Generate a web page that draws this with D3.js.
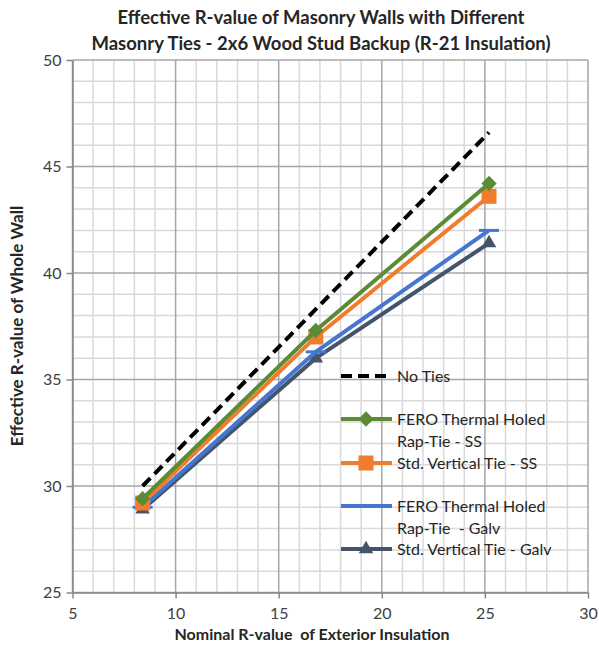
<!DOCTYPE html>
<html>
<head>
<meta charset="utf-8">
<script src="https://cdn.jsdelivr.net/npm/d3@7"></script>
<style>
  body { margin: 0; background: #fff; }
  text { font-family: Lato, "Open Sans", sans-serif; white-space: pre; }
</style>
</head>
<body>
<div id="chart"></div>
<script>
// nominal exterior insulation R-values (x)
const xValues = [8.4, 16.8, 25.2];

// effective whole-wall R-values per series
const noTies = [30.0, 38.3, 46.6];
const feroSS = [29.4, 37.3, 44.2];
const stdSS = [29.2, 37.0, 43.6];
const feroGalv = [29.0, 36.3, 42.0];
const stdGalv = [28.9, 36.0, 41.4];

const seriesNames = ["No Ties", "FERO Thermal Holed Rap-Tie - SS", "Std. Vertical Tie - SS",
  "FERO Thermal Holed Rap-Tie  - Galv", "Std. Vertical Tie - Galv"];

const xTicks = [5, 10, 15, 20, 25, 30];
const yTicks = [25, 30, 35, 40, 45, 50];

const W = 599, H = 647;
const margin = {top: 60, right: 11, bottom: 54.5, left: 72.5};
const width = W - margin.left - margin.right,
      height = H - margin.top - margin.bottom;

const svg = d3.select("#chart").append("svg")
  .attr("width", W).attr("height", H);

const g = svg.append("g").attr("transform", `translate(${margin.left},${margin.top})`);

const x = d3.scaleLinear().domain([5, 30]).range([0, width]);
const y = d3.scaleLinear().domain([25, 50]).range([height, 0]);

// minor grid every 1 unit
g.append("g").selectAll("line").data(d3.range(5, 31).filter(v => v % 5 !== 0)).join("line")
  .attr("x1", d => x(d)).attr("x2", d => x(d)).attr("y1", 0).attr("y2", height)
  .attr("stroke", "#d9d9d9").attr("stroke-width", 1.5);
g.append("g").selectAll("line").data(d3.range(25, 51).filter(v => v % 5 !== 0)).join("line")
  .attr("y1", d => y(d)).attr("y2", d => y(d)).attr("x1", 0).attr("x2", width)
  .attr("stroke", "#d9d9d9").attr("stroke-width", 1.5);
// major grid
g.append("g").selectAll("line").data(xTicks).join("line")
  .attr("x1", d => x(d)).attr("x2", d => x(d)).attr("y1", 0).attr("y2", height)
  .attr("stroke", "#a6a6a6").attr("stroke-width", 1.5);
g.append("g").selectAll("line").data(yTicks).join("line")
  .attr("y1", d => y(d)).attr("y2", d => y(d)).attr("x1", 0).attr("x2", width)
  .attr("stroke", "#a6a6a6").attr("stroke-width", 1.5);

// axes
const xAxis = g.append("g").attr("transform", `translate(0,${height})`)
  .call(d3.axisBottom(x).tickValues(xTicks).tickSize(6).tickPadding(9).tickSizeOuter(0));
const yAxis = g.append("g")
  .call(d3.axisLeft(y).tickValues(yTicks).tickSize(6).tickPadding(5).tickSizeOuter(0));
[xAxis, yAxis].forEach(a => {
  a.select(".domain").attr("stroke", "#868686").attr("stroke-width", 1.5);
  a.selectAll(".tick line").attr("stroke", "#868686").attr("stroke-width", 1.5);
  a.selectAll(".tick text").attr("fill", "#404040").style("font-size", "16px")
    .style("font-family", "Lato, 'Open Sans', sans-serif");
});

// series
const series = [
  {name: seriesNames[0], vals: noTies, color: "#000000", dash: "11,6", marker: null},
  {name: seriesNames[1], vals: feroSS, color: "#5b8c35", marker: "diamond"},
  {name: seriesNames[2], vals: stdSS, color: "#f07d2e", marker: "square"},
  {name: seriesNames[3], vals: feroGalv, color: "#4677d0", marker: "dash"},
  {name: seriesNames[4], vals: stdGalv, color: "#44546a", marker: "triangle"}
];

const line = d3.line().x(d => x(d[0])).y(d => y(d[1]));

function drawMarker(sel, type, color) {
  if (type === "diamond") {
    sel.append("path").attr("d", d3.symbol(d3.symbolDiamond2, 150)()).attr("fill", color);
  } else if (type === "square") {
    sel.append("rect").attr("x", -7.5).attr("y", -7.5).attr("width", 15).attr("height", 15).attr("fill", color);
  } else if (type === "triangle") {
    sel.append("path").attr("d", d3.symbol(d3.symbolTriangle2, 150)()).attr("fill", color);
  } else if (type === "dash") {
    sel.append("line").attr("x1", -10).attr("x2", 10).attr("stroke", color).attr("stroke-width", 3);
  }
}

// draw in reverse so No Ties / green on top like reference
[4, 3, 2, 1, 0].forEach(i => {
  const s = series[i];
  const pts = xValues.map((v, j) => [v, s.vals[j]]);
  g.append("path").datum(pts).attr("d", line)
    .attr("fill", "none").attr("stroke", s.color).attr("stroke-width", 4)
    .attr("stroke-dasharray", s.dash || null);
  if (s.marker) {
    pts.forEach(p => {
      const m = g.append("g").attr("transform", `translate(${x(p[0])},${y(p[1])})`);
      drawMarker(m, s.marker, s.color);
    });
  }
});

// legend
const legendRows = [
  {s: 0, y: 376, lines: ["No Ties"]},
  {s: 1, y: 419, lines: ["FERO Thermal Holed", "Rap-Tie - SS"]},
  {s: 2, y: 463, lines: ["Std. Vertical Tie - SS"]},
  {s: 3, y: 506, lines: ["FERO Thermal Holed", "Rap-Tie  - Galv"]},
  {s: 4, y: 549, lines: ["Std. Vertical Tie - Galv"]}
];
const legend = svg.append("g");
legendRows.forEach(r => {
  const s = series[r.s];
  legend.append("line").attr("x1", 341).attr("x2", 392).attr("y1", r.y).attr("y2", r.y)
    .attr("stroke", s.color).attr("stroke-width", 4).attr("stroke-dasharray", s.dash || null);
  if (s.marker) {
    const m = legend.append("g").attr("transform", `translate(366,${r.y})`);
    drawMarker(m, s.marker, s.color);
  }
  r.lines.forEach((t, k) => {
    legend.append("text").attr("x", 397).attr("y", r.y + k * 22)
      .attr("dy", "0.35em").attr("fill", "#262626").style("font-size", "16px").text(t);
  });
});

// titles
svg.append("text").attr("x", 321).attr("y", 24).attr("text-anchor", "middle")
  .style("font-size", "18.5px").style("font-weight", "bold").attr("fill", "#262626")
  .text("Effective R-value of Masonry Walls with Different");
svg.append("text").attr("x", 321).attr("y", 50).attr("text-anchor", "middle")
  .style("font-size", "18.5px").style("font-weight", "bold").attr("fill", "#262626")
  .text("Masonry Ties - 2x6 Wood Stud Backup (R-21 Insulation)");

svg.append("text").attr("x", 312).attr("y", 640).attr("text-anchor", "middle")
  .style("font-size", "16px").style("font-weight", "bold").attr("fill", "#262626")
  .text("Nominal R-value  of Exterior Insulation");

svg.append("text").attr("transform", "translate(23,326) rotate(-90)").attr("text-anchor", "middle")
  .style("font-size", "17px").style("font-weight", "bold").attr("fill", "#262626")
  .text("Effective R-value of Whole Wall");
</script>
</body>
</html>
